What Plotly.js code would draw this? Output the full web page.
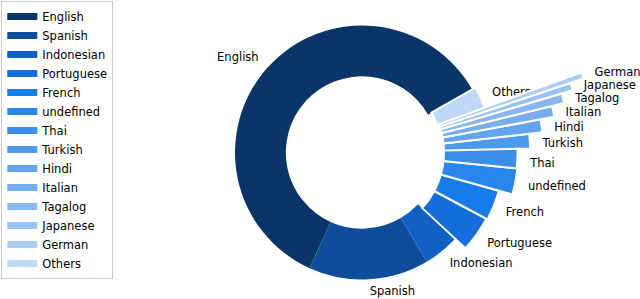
<!DOCTYPE html>
<html><head><meta charset="utf-8">
<script src="https://cdn.plot.ly/plotly-3.0.1.min.js"></script>
<style>html,body{margin:0;padding:0;background:#fff}#chart{width:640px;height:299px}</style>
</head><body><div id="chart"></div>
<script>
// ---- data ----
const languages = ['English','Spanish','Indonesian','Portuguese','French','undefined','Thai','Turkish','Hindi','Italian','Tagalog','Japanese','German','Others'];
const shares = [59.9, 15.25, 4.6, 4.1, 3.45, 2.7, 2.0, 1.4, 1.15, 0.9, 0.75, 0.55, 0.45, 2.7];

// ---- style ----
const colors = ['#0a3569','#0f4c9c','#1260c4','#136ddb','#177bec','#2a85ec','#3b8ee8','#4f99eb','#63a4ee','#75adef','#87b8f1','#9ac3f3','#accdf4','#bed9f6'];
const innerRadius = [0.6,0.6,0.6,0.645,0.645,0.645,0.645,0.645,0.645,0.645,0.645,0.645,0.645,0.63];
const outerRadius = [1,1,1,1.11,1.12,1.23,1.225,1.325,1.43,1.54,1.64,1.73,1.84,1.03];
const edgeWidth   = [0,0,0,2,2,2,2,2,2,2,2,2,2,2];
const labelDropPx = [0,0,3,2.5,3.5,3.5,4.5,4,4,4.5,4,3,2,1.5];
// which polar subplot draws each wedge (the long wedges need a larger radial range)
const subplotOf   = ['polar','polar','polar','polar3','polar3','polar3','polar3','polar2','polar2','polar2','polar2','polar2','polar2','polar'];
const subplots = {
  polar:  {sector:[0,360],    rmax:1.15},
  polar2: {sector:[1,20.5],   rmax:1.96},
  polar3: {sector:[-43.3,1.5],rmax:1.35}
};
const startAngle = 29.8;
const labelGap = 0.1;
const FONT = 'DejaVu Sans, sans-serif';
const cx = 362, cy = 152.5, R = 127, W = 640, H = 299;

const total = shares.reduce((a,b)=>a+b,0);
let cum = 0;
const mids = [], widths = [];
shares.forEach(v => {
  widths.push(v/total*360);
  mids.push(startAngle + (cum + v/2)/total*360);
  cum += v;
});

// label anchor: just outside each wedge, nudged down a few pixels
const labelPos = mids.map((t,i) => {
  const rr = outerRadius[i] + labelGap;
  const x = rr*Math.cos(t*Math.PI/180);
  const y = rr*Math.sin(t*Math.PI/180) - labelDropPx[i]/R;
  return {r: Math.hypot(x,y), theta: Math.atan2(y,x)*180/Math.PI, right: x >= 0};
});

const traces = [];
languages.forEach((name,i) => {
  traces.push({
    type:'barpolar', name:name, subplot:subplotOf[i], showlegend:false, hoverinfo:'skip',
    theta:[mids[i]], width:[widths[i]],
    base:[innerRadius[i]], r:[outerRadius[i]-innerRadius[i]],
    marker:{color:colors[i], line:{color:'#ffffff', width:edgeWidth[i]}}
  });
});
Object.keys(subplots).forEach(sp => {
  const idx = languages.map((_,i)=>i).filter(i => subplotOf[i] === sp);
  traces.push({
    type:'scatterpolar', subplot:sp, mode:'text', showlegend:false, hoverinfo:'skip', cliponaxis:false,
    r: idx.map(i => labelPos[i].r), theta: idx.map(i => labelPos[i].theta),
    text: idx.map(i => languages[i]),
    textposition: idx.map(i => labelPos[i].right ? 'middle right' : 'middle left'),
    textfont:{family:FONT, size:11.5, color:'#000000'}
  });
});
languages.forEach((name,i) => {
  traces.push({
    type:'scatterpolar', subplot:'polar', mode:'lines', name:name, r:[null], theta:[null],
    line:{color:colors[i], width:7}, hoverinfo:'skip'
  });
});

// domain of a polar sector so that centre and scale are shared by all subplots
function sectorDomain(sector, rmax) {
  const a0 = sector[0], a1 = sector[1];
  const pts = [[0,0]];
  const add = a => pts.push([Math.cos(a*Math.PI/180), Math.sin(a*Math.PI/180)]);
  add(a0); add(a1);
  for (let k = Math.ceil(a0/90)*90; k <= a1; k += 90) add(k);
  const xs = pts.map(p=>p[0]), ys = pts.map(p=>p[1]);
  const rp = rmax * R;
  const x0 = cx + rp*Math.min(...xs), x1 = cx + rp*Math.max(...xs);
  const yTop = cy - rp*Math.max(...ys), yBot = cy - rp*Math.min(...ys);
  return {x:[x0/W, x1/W], y:[(H-yBot)/H, (H-yTop)/H]};
}

const layout = {
  width:W, height:H, margin:{l:0,r:0,t:0,b:0},
  paper_bgcolor:'#ffffff', plot_bgcolor:'#ffffff',
  font:{family:FONT, size:11.5, color:'#000000'},
  showlegend:true,
  legend:{x:0.002, y:0.997, xanchor:'left', yanchor:'top', bordercolor:'#cccccc', borderwidth:1,
          bgcolor:'#ffffff', font:{family:FONT, size:11.5, color:'#000000'}, traceorder:'normal'}
};
Object.keys(subplots).forEach(sp => {
  const s = subplots[sp];
  layout[sp] = {
    domain: sectorDomain(s.sector, s.rmax), sector: s.sector,
    bgcolor:'rgba(0,0,0,0)', barmode:'overlay', hole:0,
    angularaxis:{visible:false, rotation:0, direction:'counterclockwise'},
    radialaxis:{visible:false, range:[0, s.rmax], autorange:false}
  };
});
Plotly.newPlot('chart', traces, layout, {staticPlot:true, displayModeBar:false});
</script></body></html>
